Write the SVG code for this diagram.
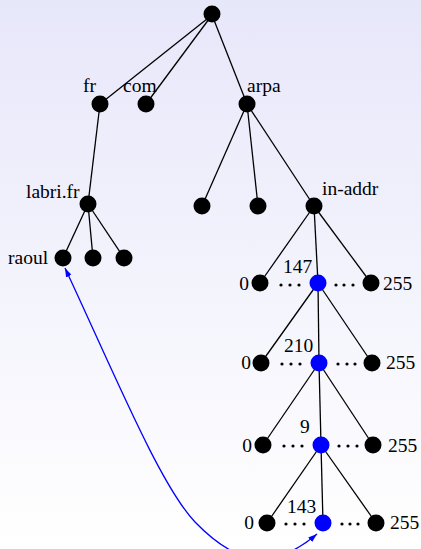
<svg xmlns="http://www.w3.org/2000/svg" width="421" height="549" viewBox="0 0 421 549">
  <defs>
    <linearGradient id="bg" x1="0" y1="0" x2="0" y2="1">
      <stop offset="0" stop-color="#e7e7fa"/>
      <stop offset="1" stop-color="#ffffff"/>
    </linearGradient>
    <marker id="tip" viewBox="0 0 9 6" refX="9" refY="3" markerWidth="9" markerHeight="6" markerUnits="userSpaceOnUse" orient="auto-start-reverse">
      <path d="M0,0 L9,3 L0,6 z" fill="#0000ff"/>
    </marker>
    <style>
      .edge { stroke: #000; stroke-width: 1.3; fill: none; }
      .node { fill: #000; }
      .hit { fill: #0000ff; }
      .dot { fill: #000; }
      .lbl { font-family: "Liberation Serif", "Times New Roman", serif; font-size: 19.5px; fill: #000; }
      .end { text-anchor: end; }
      .link { stroke: #0000ff; stroke-width: 1.3; fill: none; }
    </style>
  </defs>

  <rect x="0" y="0" width="421" height="549" fill="url(#bg)"/>

  <!-- tree edges -->
  <g id="connectors">
    <line class="edge" x1="212" y1="15" x2="100" y2="104"/>
    <line class="edge" x1="212" y1="15" x2="146" y2="104"/>
    <line class="edge" x1="212" y1="15" x2="247" y2="104"/>
    <line class="edge" x1="100" y1="104" x2="88" y2="204"/>
    <line class="edge" x1="88" y1="204" x2="63" y2="258"/>
    <line class="edge" x1="88" y1="204" x2="93" y2="258"/>
    <line class="edge" x1="88" y1="204" x2="124" y2="258"/>
    <line class="edge" x1="247" y1="104" x2="202" y2="206"/>
    <line class="edge" x1="247" y1="104" x2="258" y2="206"/>
    <line class="edge" x1="247" y1="104" x2="314" y2="206"/>
    <line class="edge" x1="314" y1="206" x2="260" y2="283"/>
    <line class="edge" x1="314" y1="206" x2="318" y2="283"/>
    <line class="edge" x1="314" y1="206" x2="371" y2="283"/>
    <line class="edge" x1="318" y1="283" x2="261" y2="363"/>
    <line class="edge" x1="318" y1="283" x2="319" y2="363"/>
    <line class="edge" x1="318" y1="283" x2="372" y2="363"/>
    <line class="edge" x1="319" y1="363" x2="263" y2="445"/>
    <line class="edge" x1="319" y1="363" x2="321" y2="445"/>
    <line class="edge" x1="319" y1="363" x2="373" y2="445"/>
    <line class="edge" x1="321" y1="445" x2="267" y2="523"/>
    <line class="edge" x1="321" y1="445" x2="323" y2="523"/>
    <line class="edge" x1="321" y1="445" x2="376" y2="523"/>
    <!-- reverse lookup link between 143 and raoul, dipping below the bottom edge -->
    <path class="link" d="M65,268 C115,375 160,485 195,522 C228,556 265,578 317,534" marker-start="url(#tip)" marker-end="url(#tip)"/>
  </g>

  <g id="root"><circle class="node" cx="212" cy="14" r="8.5"/></g>

  <g id="fr"><circle class="node" cx="100" cy="104" r="8.5"/><text class="lbl" x="83" y="92">fr</text></g>
  <g id="com"><circle class="node" cx="146" cy="104" r="8.5"/><text class="lbl" x="123" y="92">com</text></g>
  <g id="arpa"><circle class="node" cx="247" cy="104" r="8.5"/><text class="lbl" x="247" y="92">arpa</text></g>

  <g id="labri"><circle class="node" cx="88" cy="204" r="8.5"/><text class="lbl" x="26" y="198">labri.fr</text></g>
  <g id="raoul"><circle class="node" cx="63" cy="258" r="8.5"/><text class="lbl" x="8" y="264">raoul</text></g>
  <g id="labri-2"><circle class="node" cx="93" cy="258" r="8.5"/></g>
  <g id="labri-3"><circle class="node" cx="124" cy="258" r="8.5"/></g>

  <g id="arpa-1"><circle class="node" cx="202" cy="206" r="8.5"/></g>
  <g id="arpa-2"><circle class="node" cx="258" cy="206" r="8.5"/></g>
  <g id="in-addr"><circle class="node" cx="314" cy="206" r="8.5"/><text class="lbl" x="322" y="195">in-addr</text></g>

  <!-- level 147 -->
  <g id="l1-0"><circle class="node" cx="260" cy="283" r="8.5"/><text class="lbl end" x="249" y="290">0</text></g>
  <g id="l1-147"><circle class="hit" cx="318" cy="283" r="8.5"/><text class="lbl" x="283" y="273">147</text></g>
  <g id="l1-255"><circle class="node" cx="371" cy="283" r="8.5"/><text class="lbl" x="383" y="290">255</text></g>
  <g id="l1-dots">
    <circle class="dot" cx="281" cy="285" r="1.6"/><circle class="dot" cx="290" cy="285" r="1.6"/><circle class="dot" cx="299" cy="285" r="1.6"/>
    <circle class="dot" cx="336" cy="285" r="1.6"/><circle class="dot" cx="344" cy="285" r="1.6"/><circle class="dot" cx="353" cy="285" r="1.6"/>
  </g>

  <!-- level 210 -->
  <g id="l2-0"><circle class="node" cx="261" cy="363" r="8.5"/><text class="lbl end" x="251" y="369">0</text></g>
  <g id="l2-210"><circle class="hit" cx="319" cy="363" r="8.5"/><text class="lbl" x="284" y="352">210</text></g>
  <g id="l2-255"><circle class="node" cx="372" cy="363" r="8.5"/><text class="lbl" x="386" y="369">255</text></g>
  <g id="l2-dots">
    <circle class="dot" cx="282" cy="364" r="1.6"/><circle class="dot" cx="291" cy="364" r="1.6"/><circle class="dot" cx="300" cy="364" r="1.6"/>
    <circle class="dot" cx="338" cy="364" r="1.6"/><circle class="dot" cx="347" cy="364" r="1.6"/><circle class="dot" cx="355" cy="364" r="1.6"/>
  </g>

  <!-- level 9 -->
  <g id="l3-0"><circle class="node" cx="263" cy="445" r="8.5"/><text class="lbl end" x="252" y="452">0</text></g>
  <g id="l3-9"><circle class="hit" cx="321" cy="445" r="8.5"/><text class="lbl" x="300" y="433">9</text></g>
  <g id="l3-255"><circle class="node" cx="373" cy="445" r="8.5"/><text class="lbl" x="388" y="452">255</text></g>
  <g id="l3-dots">
    <circle class="dot" cx="284" cy="446" r="1.6"/><circle class="dot" cx="293" cy="446" r="1.6"/><circle class="dot" cx="302" cy="446" r="1.6"/>
    <circle class="dot" cx="339" cy="446" r="1.6"/><circle class="dot" cx="348" cy="446" r="1.6"/><circle class="dot" cx="357" cy="446" r="1.6"/>
  </g>

  <!-- level 143 -->
  <g id="l4-0"><circle class="node" cx="267" cy="523" r="8.5"/><text class="lbl end" x="254" y="529">0</text></g>
  <g id="l4-143"><circle class="hit" cx="323" cy="523" r="8.5"/><text class="lbl" x="287" y="513">143</text></g>
  <g id="l4-255"><circle class="node" cx="376" cy="523" r="8.5"/><text class="lbl" x="390" y="529">255</text></g>
  <g id="l4-dots">
    <circle class="dot" cx="286" cy="524" r="1.6"/><circle class="dot" cx="295" cy="524" r="1.6"/><circle class="dot" cx="304" cy="524" r="1.6"/>
    <circle class="dot" cx="342" cy="524" r="1.6"/><circle class="dot" cx="350" cy="524" r="1.6"/><circle class="dot" cx="358" cy="524" r="1.6"/>
  </g>
</svg>
